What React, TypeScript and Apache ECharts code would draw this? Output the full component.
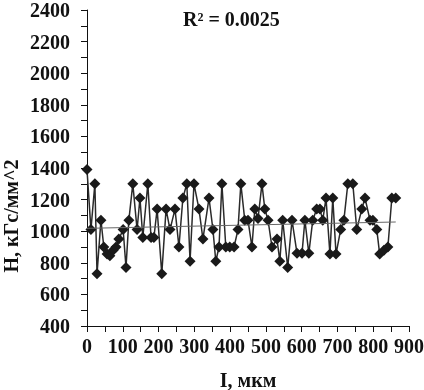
import React, { useEffect, useRef } from "react";
import * as echarts from "echarts";

const depthUm = [
  0, 11, 22, 28, 39, 47, 56, 64, 73, 81, 89, 101, 109, 117, 128, 140, 148, 156, 170, 179,
  187, 196, 209, 221, 232, 246, 257, 268, 279, 288, 299, 313, 324, 341, 352, 360, 369, 377, 388, 399,
  411, 422, 430, 441, 450, 461, 469, 478, 489, 497, 506, 517, 531, 539, 547, 561, 573, 587, 601, 609,
  620, 631, 642, 651, 659, 668, 679, 687, 696, 709, 718, 729, 743, 754, 768, 777, 791, 799, 810, 818,
  830, 841, 852, 863,
];
const hardness = [
  1390, 1010, 1300, 730, 1070, 900, 855, 845, 880, 900, 950, 1010, 770, 1070, 1300, 1010, 1210, 960, 1300, 960,
  960, 1140, 730, 1140, 1010, 1140, 900, 1210, 1300, 810, 1300, 1140, 950, 1210, 1010, 810, 900, 1300, 900, 900,
  900, 1010, 1300, 1070, 1070, 900, 1140, 1080, 1300, 1140, 1070, 900, 950, 810, 1070, 770, 1070, 860, 860, 1070,
  860, 1070, 1140, 1140, 1070, 1210, 855, 1210, 855, 1010, 1070, 1300, 1300, 1010, 1140, 1210, 1070, 1070, 1010, 855,
  880, 900, 1210, 1210,
];
const xTicks = [0, 900, 100];
const yTicks = [400, 2400, 200];
const r2Label = "R² = 0.0025";
const xTitle = "I, мкм";
const yTitle = "H, кГс/мм^2";

export default function App() {
  const ref = useRef<HTMLDivElement>(null);
  useEffect(() => {
    if (!ref.current) return;
    const chart = echarts.init(ref.current, null, { renderer: "svg" });
    const n = depthUm.length;
    const mx = depthUm.reduce((a, b) => a + b, 0) / n;
    const my = hardness.reduce((a, b) => a + b, 0) / n;
    let sxy = 0, sxx = 0;
    for (let i = 0; i < n; i++) {
      sxy += (depthUm[i] - mx) * (hardness[i] - my);
      sxx += (depthUm[i] - mx) ** 2;
    }
    const slope = sxy / sxx;
    const icpt = my - slope * mx;
    const x0 = depthUm[0], x1 = depthUm[n - 1];
    const trend = [[x0, icpt + slope * x0], [x1, icpt + slope * x1]];
    const font = "'Liberation Serif', 'Times New Roman', serif";
    const fmt = (v: number) => String(v);
    chart.setOption({
      animation: false,
      grid: { left: 87, right: 15, top: 10, bottom: 64, outerBoundsMode: "none", containLabel: false },
      xAxis: {
        type: "value",
        min: xTicks[0], max: xTicks[1], interval: xTicks[2],
        name: xTitle,
        nameLocation: "middle",
        nameGap: 45,
        nameTextStyle: { fontFamily: font, fontWeight: "bold", fontSize: 20, color: "#111", lineHeight: 18 },
        axisLine: { lineStyle: { color: "#111", width: 1 } },
        axisTick: { show: true, length: 6, lineStyle: { color: "#111" } },
        minorTick: { show: true, splitNumber: 2, length: 6, lineStyle: { color: "#111" } },
        splitLine: { show: false },
        axisLabel: { fontFamily: font, fontWeight: "bold", fontSize: 20, color: "#111", margin: 10, formatter: fmt, hideOverlap: false },
      },
      yAxis: {
        type: "value",
        min: yTicks[0], max: yTicks[1], interval: yTicks[2],
        axisLine: { show: true, lineStyle: { color: "#111", width: 1 } },
        axisTick: { show: true, length: 6, lineStyle: { color: "#111" } },
        minorTick: { show: true, splitNumber: 2, length: 6, lineStyle: { color: "#111" } },
        splitLine: { show: false },
        axisLabel: { fontFamily: font, fontWeight: "bold", fontSize: 20, lineHeight: 16, color: "#111", margin: 17, formatter: fmt },
      },
      graphic: [
        {
          type: "text",
          left: 183,
          top: 9,
          style: { text: r2Label, font: `bold 20px ${font}`, fill: "#111" },
        },
        {
          type: "text",
          x: 11,
          y: 216,
          rotation: Math.PI / 2,
          style: {
            text: yTitle,
            font: `bold 20px ${font}`,
            fill: "#111",
            align: "center",
            verticalAlign: "middle",
            lineHeight: 16,
          },
        },
      ],
      series: [
        {
          type: "line",
          data: depthUm.map((x, i) => [x, hardness[i]]),
          symbol: "diamond",
          symbolSize: 11,
          itemStyle: { color: "#1a1a1a" },
          lineStyle: { color: "#2a2a2a", width: 1.5 },
          z: 3,
        },
        {
          type: "line",
          data: trend,
          symbol: "none",
          lineStyle: { color: "#666", width: 1 },
          z: 4,
        },
      ],
    });
    return () => chart.dispose();
  }, []);
  return <div ref={ref} style={{ position: "fixed", left: 0, top: 0, width: 424, height: 390 }} />;
}
